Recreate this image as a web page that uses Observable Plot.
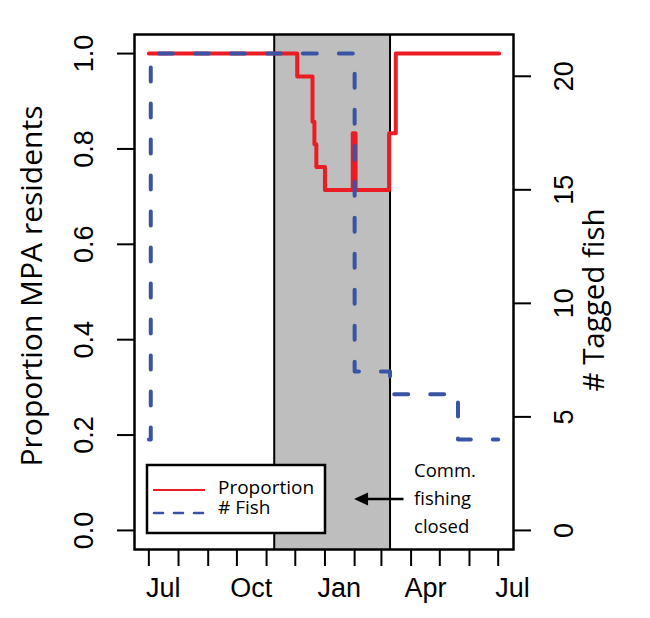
<!DOCTYPE html>
<html><head><meta charset="utf-8">
<script src="https://cdn.jsdelivr.net/npm/d3@7"></script>
<script src="https://cdn.jsdelivr.net/npm/@observablehq/plot@0.6"></script>
<style>body{margin:0;background:#fff}</style>
</head><body><div id="chart"></div>
<script>
// ---- data ----
const totalFish = 21;
const propDates = ["2012-07-01","2012-12-03","2012-12-19","2012-12-21","2012-12-23","2013-01-01","2013-01-30","2013-02-02","2013-03-09","2013-03-16","2013-07-02"];
const propValues = [1.0, 0.952, 0.857, 0.810, 0.762, 0.714, 0.833, 0.714, 0.833, 1.0, 1.0];
const fishDates = ["2012-07-01","2012-07-03","2013-02-01","2013-03-10","2013-05-20","2013-07-01"];
const fishCounts = [4, 21, 7, 6, 4, 4];
const closureDates = ["2012-11-09","2013-03-10"];
const leftTicks = [0, 0.2, 0.4, 0.6, 0.8, 1.0];
const rightTicks = [0, 5, 10, 15, 20];
const monthLabels = ["Jul","Oct","Jan","Apr","Jul"];
const monthLabelDates = ["2012-07-16","2012-10-16","2013-01-16","2013-04-16","2013-07-16"];
const legendLabels = ["Proportion", "# Fish"];
const noteLines = ["Comm.", "fishing", "closed"];
const xDomain = ["2012-06-16","2013-07-17"];

const RED = "#ec1c24", BLUE = "#3a54a5";
const D = s => new Date(s + "T00:00:00Z");

const propData = propDates.map((d, i) => ({date: D(d), value: propValues[i]}));
const fishData = fishDates.map((d, i) => ({date: D(d), count: fishCounts[i]}));
const closure = [{start: D(closureDates[0]), end: D(closureDates[1])}];
const monthTicks = d3.utcMonth.range(D("2012-07-01"), D("2013-07-02"));
const xLabels = monthLabelDates.map((d, i) => ({date: D(d), text: monthLabels[i]}));

function overlay(index, scales, values, dim) {
  const g = d3.create("svg:g").attr("text-anchor", "start");
  const left = dim.marginLeft, bottom = dim.height - dim.marginBottom;
  // legend
  const bx = left + 13, by = bottom - 84, bw = 178, bh = 68;
  g.append("rect").attr("x", bx).attr("y", by).attr("width", bw).attr("height", bh)
    .attr("fill", "white").attr("stroke", "black").attr("stroke-width", 2.5);
  g.append("line").attr("x1", bx + 6).attr("x2", bx + 58).attr("y1", by + 25).attr("y2", by + 25)
    .attr("stroke", RED).attr("stroke-width", 2.2);
  g.append("line").attr("x1", bx + 7).attr("x2", bx + 58).attr("y1", by + 48).attr("y2", by + 48)
    .attr("stroke", BLUE).attr("stroke-width", 2.5).attr("stroke-dasharray", "9,11").attr("stroke-linecap", "round");
  legendLabels.forEach((t, i) => {
    g.append("text").attr("x", bx + 71).attr("y", by + 22 + i * 20).attr("dy", "0.35em")
      .attr("text-anchor", "start")
      .attr("font-family", "Open Sans").attr("font-size", 19).attr("fill", "black").text(t);
  });
  // annotation
  const xe = scales.x(closure[0].end);
  const ay = bottom - 50;
  g.append("line").attr("x1", xe + 14).attr("x2", xe - 24).attr("y1", ay).attr("y2", ay)
    .attr("stroke", "black").attr("stroke-width", 2.5);
  const tip = xe - 35.5;
  g.append("path").attr("d", `M${tip},${ay}L${tip + 14},${ay - 6.5}L${tip + 14},${ay + 6.5}Z`).attr("fill", "black");
  noteLines.forEach((t, i) => {
    g.append("text").attr("x", xe + 24.5).attr("y", bottom - 78 + i * 28).attr("dy", "0.35em")
      .attr("text-anchor", "start")
      .attr("font-family", "Open Sans").attr("font-size", 18.5).attr("fill", "black").text(t);
  });
  return g.node();
}

const chart = Plot.plot({
  width: 650, height: 618,
  marginLeft: 134, marginRight: 137, marginTop: 34, marginBottom: 69,
  style: {fontFamily: "Liberation Sans", color: "black", background: "white"},
  x: {type: "utc", domain: xDomain.map(D), axis: null},
  y: {domain: [-0.04, 1.04], axis: null},
  marks: [
    Plot.rect(closure, {x1: "start", x2: "end", fill: "#bebebe"}),
    Plot.ruleX(closure.flatMap(d => [d.start, d.end]), {stroke: "black", strokeWidth: 2}),
    Plot.line(propData, {x: "date", y: "value", curve: "step-after", stroke: RED, strokeWidth: 4}),
    Plot.line(fishData, {x: "date", y: d => d.count / totalFish, curve: "step-after", stroke: BLUE, strokeWidth: 4, strokeDasharray: "14,22"}),
    Plot.axisX(monthTicks, {anchor: "bottom", tickSize: 17, strokeWidth: 2, tickFormat: () => "", label: null}),
    Plot.axisY(leftTicks, {anchor: "left", tickSize: 17, strokeWidth: 2, tickFormat: () => "", label: null}),
    Plot.axisY(rightTicks.map(v => v / totalFish), {anchor: "right", tickSize: 17, strokeWidth: 2, tickFormat: () => "", label: null}),
    Plot.text(leftTicks, {y: d => d, text: d => d.toFixed(1), frameAnchor: "left", textAnchor: "middle", dx: -50, rotate: -90, fontSize: 27}),
    Plot.text(rightTicks, {y: d => d / totalFish, text: d => String(d), frameAnchor: "right", textAnchor: "middle", dx: 51, rotate: -90, fontSize: 27}),
    Plot.text(xLabels, {x: "date", text: "text", frameAnchor: "bottom", dy: 39, fontSize: 27, lineAnchor: "middle"}),
    Plot.text(["Proportion MPA residents"], {text: d => d, frameAnchor: "left", textAnchor: "middle", dx: -102, dy: -6, rotate: -90, fontSize: 30, fontFamily: "Open Sans"}),
    Plot.text(["# Tagged fish"], {text: d => d, frameAnchor: "right", textAnchor: "middle", dx: 81, dy: 8, rotate: -90, fontSize: 29.5, fontFamily: "Open Sans"}),
    overlay,
    Plot.frame({stroke: "black", strokeWidth: 2.5})
  ]
});
document.getElementById("chart").appendChild(chart);
</script>
</body></html>
